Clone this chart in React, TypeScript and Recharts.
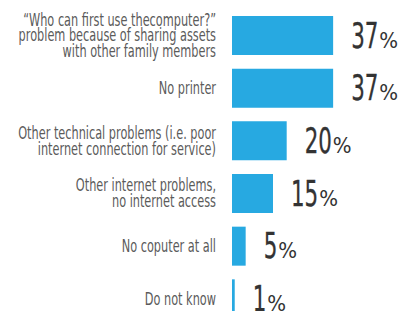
import React from "react";
import { BarChart, Bar, XAxis, YAxis, LabelList } from "recharts";

const categories = [
  "“Who can first use thecomputer?”\nproblem because of sharing assets\nwith other family members",
  "No printer",
  "Other technical problems (i.e. poor\ninternet connection for service)",
  "Other internet problems,\nno internet access",
  "No coputer at all",
  "Do not know",
];
const values = [37, 37, 20, 15, 5, 1];

const data = categories.map((c, i) => ({ name: c, value: values[i] }));

const FONT = "'DejaVu Sans Condensed', 'DejaVu Sans', sans-serif";

const CategoryTick = (props: any) => {
  const { y, payload } = props;
  const lines = String(payload.value).split("\n");
  const lh = 15.8;
  const first = -((lines.length - 1) * lh) / 2 + 6;
  return (
    <g transform={`translate(208,${y}) scale(0.74,1)`}>
      <text x={0} y={0} textAnchor="end" fill="#5b5b5b" fontFamily={FONT} fontSize={17}>
        {lines.map((l, i) => (
          <tspan key={i} x={0} dy={i === 0 ? first : lh}>
            {l}
          </tspan>
        ))}
      </text>
    </g>
  );
};

const ValueLabel = (props: any) => {
  const { x, y, width, height, value } = props;
  const s = String(value);
  const x0 = x + width + 18;
  const base = y + height / 2 + 12;
  const digitsW = s.length * 0.572 * 36 * 0.66;
  return (
    <g>
      <g transform={`translate(${x0},${base}) scale(0.66,1)`}>
        <text
          x={0}
          y={0}
          fill="#333333"
          fontFamily={FONT}
          fontSize={36}
          stroke="#333333"
          strokeWidth={0.3}
        >
          {s}
        </text>
      </g>
      <text x={x0 + digitsW + 1} y={base} fill="#333333" fontFamily={FONT} fontSize={22}>
        %
      </text>
    </g>
  );
};

export default function App() {
  return (
    <div style={{ width: 409, height: 320 }}>
      <BarChart
        width={409}
        height={320}
        data={data}
        layout="vertical"
        margin={{ top: 1, right: 21, bottom: 3, left: 0 }}
      >
        <XAxis type="number" domain={[0, 60]} hide />
        <YAxis
          type="category"
          dataKey="name"
          width={224}
          axisLine={false}
          tickLine={false}
          tick={<CategoryTick />}
          interval={0}
        />
        <Bar dataKey="value" fill="#27a9e1" barSize={39} isAnimationActive={false}>
          <LabelList dataKey="value" content={<ValueLabel />} />
        </Bar>
      </BarChart>
    </div>
  );
}
